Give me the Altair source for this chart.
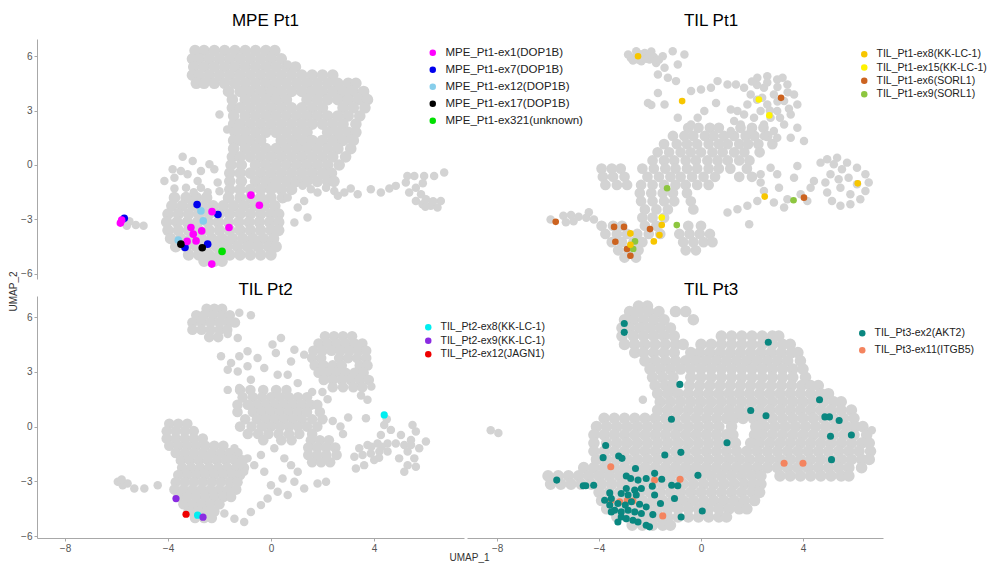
import altair as alt
import pandas as pd

# Gray background cells are given as rows: (UMAP_2, [UMAP_1 values ...]) plus loose points.

# ======================= MPE Pt1 =======================
MPE_ROWS = [
    (6.3, [-2.95, -2.6, -2.2, -1.8, -1.4, -1.0, -0.6, -0.2, 0.15]),
    (5.85, [-3.05, -2.8, -2.4, -2.0, -1.6, -1.2, -0.8, -0.4, 0.0, 0.4]),
    (5.4, [-3.0, -2.6, -2.2, -1.8, -1.4, -1.0, -0.6, -0.2, 0.2, 0.6, 0.95]),
    (4.95, [-3.05, -2.8, -2.4, -2.0, -1.6, -1.2, -0.8, -0.4, 0.0, 0.4, 0.8, 1.2, 1.6, 2.0, 2.4]),
    (4.5, [-2.9, -2.6, -2.2, -1.8, -1.4, -1.0, -0.6, -0.2, 0.2, 0.6, 1.0, 1.4, 1.8, 2.2, 2.6, 3.0, 3.3]),
    (4.05, [-1.65, -1.2, -0.8, -0.4, 0.0, 0.4, 0.8, 1.2, 1.6, 2.0, 2.4, 2.8, 3.2, 3.6]),
    (3.6, [-1.5, -1.0, -0.6, -0.2, 0.2, 0.6, 1.4, 1.8, 2.2, 2.6, 3.0, 3.4, 3.75]),
    (3.15, [-1.5, -1.2, -0.8, -0.4, 0.0, 0.4, 0.8, 1.2, 1.6, 2.0, 2.8, 3.2, 3.65]),
    (2.7, [-1.45, -1.0, -0.6, -0.2, 0.2, 0.6, 1.0, 1.4, 1.8, 2.2, 2.6, 3.0, 3.45]),
    (2.25, [-1.45, -1.2, -0.8, -0.4, 0.0, 0.4, 0.8, 1.2, 1.6, 2.0, 2.4, 2.8, 3.3]),
    (1.8, [-1.4, -1.0, -0.6, -0.2, 0.2, 0.6, 1.0, 1.4, 2.2, 2.6, 3.0, 3.3]),
    (1.35, [-1.45, -1.2, -0.8, -0.4, 0.4, 0.8, 1.2, 1.6, 2.0, 2.4, 2.8, 3.2]),
    (0.9, [-1.45, -1.0, -0.6, -0.2, 0.2, 0.6, 1.0, 1.4, 1.8, 2.2, 2.6, 3.1]),
    (0.45, [-1.5, -1.2, -0.8, -0.4, 0.0, 0.4, 0.8, 1.2, 1.6, 2.0, 2.4, 2.9]),
    (0.0, [-1.55, -1.15, -0.6, -0.2, 0.2, 0.6, 1.0, 1.4, 1.8, 2.2, 2.65]),
    (-0.45, [-1.6, -1.2, -0.8, -0.4, 0.0, 0.4, 0.8, 1.2, 1.6, 2.0, 2.35]),
    (-0.9, [-1.6, -1.15, -0.6, -0.2, 0.2, 0.6, 1.0, 1.4, 1.8, 2.2, 2.45]),
    (-1.35, [-1.6, -1.2, -0.8, -0.4, 0.0, 0.4, 0.8]),
    (-1.8, [-3.75, -3.3, -2.9, -2.5, -1.65, -1.2, -0.8, -0.4, 0.0, 0.45]),
    (-2.25, [-3.85, -3.45, -3.05, -2.65, -2.25, -1.85, -1.45, -1.05, -0.65, -0.25, 0.15]),
    (-2.7, [-4.0, -3.6, -3.2, -2.8, -2.4, -2.0, -1.6, -1.2, -0.8, -0.4, 0.0, 0.3]),
    (-3.15, [-4.05, -3.65, -3.25, -2.85, -2.45, -2.05, -1.65, -1.25, -0.85, -0.45, -0.05, 0.3]),
    (-3.6, [-4.0, -3.6, -3.2, -2.8, -2.4, -2.0, -1.6, -1.2, -0.8, -0.4, 0.0, 0.3]),
    (-4.05, [-3.9, -3.5, -3.1, -2.7, -2.3, -1.9, -1.5, -1.1, -0.7, -0.3, 0.1]),
    (-4.5, [-3.7, -3.3, -2.9, -2.5, -2.1, -1.7, -1.3, -0.9, -0.5, -0.1, 0.2]),
    (-4.95, [-3.2, -2.8, -2.4, -2.0, -1.6, -1.2, -0.8, -0.4, 0.0]),
    (-5.3, [-2.6, -2.2, -1.9]),
]
MPE_LOOSE = [
    (-2.0, 2.78), (-1.7, 1.96), (0.65, 5.53),
    (-3.43, 0.46), (-3.82, -0.24), (-4.14, -0.88), (-3.75, -0.70), (-3.24, -0.51), (-2.72, -0.33),
    (-2.20, -0.24), (-3.30, -1.25), (-2.72, -1.25), (-2.07, -0.97), (-3.75, -1.3), (-2.46, -1.5),
    (-3.04, 0.22), (-2.39, 0.04), (-2.85, -0.88), (-3.50, -0.33), (-2.0, -1.45), (-3.0, -1.5),
    (0.91, -0.97), (1.23, -1.15), (1.55, -1.34), (1.81, -1.52), (2.14, -1.25), (2.46, -1.43),
    (2.85, -1.52), (3.37, -1.61), (3.88, -1.34), (4.27, -1.52), (1.29, -1.98), (1.42, -2.89),
    (0.91, -3.17), (0.65, -1.79), (1.04, -2.34), (3.1, -1.3), (2.6, -1.7), (4.6, -1.3),
    (4.85, -1.15), (5.24, -0.97), (5.57, -0.60), (5.95, -0.60), (6.34, -0.60), (6.73, -0.42),
    (5.63, -1.25), (5.83, -1.61), (5.63, -1.98), (5.89, -2.16), (6.21, -2.25), (6.47, -2.34),
    (6.60, -1.98), (6.02, -1.89), (5.37, -1.52), (6.3, -2.0), (6.0, -2.3), (5.9, -1.0), (5.3, -0.6),
    (-5.5, -3.1), (-5.25, -3.3), (-4.95, -3.35), (-5.6, -3.35),
]
MPE_LABELS = ["MPE_Pt1-ex1(DOP1B)", "MPE_Pt1-ex7(DOP1B)", "MPE_Pt1-ex12(DOP1B)",
              "MPE_Pt1-ex17(DOP1B)", "MPE_Pt1-ex321(unknown)"]
MPE_COLORS = ["#FF00FF", "#0000EE", "#87CEEB", "#000000", "#00E000"]
MPE_EX12 = [(-2.72, -2.53), (-2.63, -3.08), (-3.60, -4.14), (-5.75, -3.0)]
MPE_EX7 = [(-2.87, -2.18), (-2.06, -2.73), (-2.46, -4.36), (-3.34, -4.54), (-5.70, -2.93)]
MPE_EX1 = [(-0.78, -1.66), (-0.45, -2.22), (-2.29, -2.57), (-1.63, -3.44), (-3.11, -3.44),
           (-3.02, -3.81), (-2.69, -3.63), (-2.91, -4.18), (-3.26, -4.21), (-2.30, -5.46),
           (-5.80, -3.04), (-5.85, -3.2)]
MPE_EX17 = [(-3.50, -4.36), (-2.67, -4.56)]
MPE_EX321 = [(-1.90, -4.76)]

# ======================= TIL Pt1 =======================
TIL1_ROWS = [
    (2.05, [-0.5, -0.1, 0.35, 0.7, 1.55, 2.0, 2.45]),
    (1.6, [-1.1, -0.65, -0.3, 0.15, 0.5, 0.9, 1.3, 1.75, 2.1, 2.6]),
    (1.15, [-1.45, -0.95, -0.55, -0.15, 0.3, 0.7, 1.05, 1.5, 1.85, 2.25, 2.8]),
    (0.7, [-1.7, -1.25, -0.8, -0.4, 0.0, 0.45, 0.85, 1.3, 1.7, 2.3]),
    (0.25, [-1.9, -1.45, -1.05, -0.6, -0.2, 0.25, 0.65, 1.05, 1.5, 1.9]),
    (-0.2, [-3.9, -3.5, -3.15, -2.3, -1.85, -1.4, -1.0, -0.55, -0.15, 0.3, 0.7, 1.15, 1.8]),
    (-0.65, [-3.85, -3.45, -3.0, -2.1, -1.65, -1.2, -0.8, -0.35, 0.1, 0.55, 1.5, 2.0]),
    (-1.1, [-3.75, -3.3, -2.9, -2.35, -1.9, -1.45, -1.0, -0.6, -0.15, 0.3]),
    (-1.55, [-2.4, -1.95, -1.5, -1.1, -0.55]),
    (-2.0, [-2.35, -1.9, -1.45, -1.05, -0.4]),
    (-2.45, [-2.2, -1.75, -1.3, -0.3]),
    (-2.9, [-2.3, -1.9, -1.45]),
    (-3.35, [-3.9, -3.45, -3.1, -2.2, -1.75, -0.5, 0.0]),
    (-3.8, [-3.75, -3.3, -2.9, -2.5, -2.05, -1.6, -0.85, -0.45, -0.05, 0.35]),
    (-4.25, [-3.5, -3.1, -2.65, -2.3, -0.7, -0.3, 0.1, 0.45]),
    (-4.7, [-3.25, -2.85, -2.45, -0.6, -0.2]),
    (-5.1, [-3.0, -2.55]),
]
TIL1_LOOSE = [
    (-2.86, 6.08), (-2.67, 5.75), (-2.54, 6.26), (-2.34, 5.71), (-2.21, 6.17), (-2.02, 5.81),
    (-1.95, 6.25), (-1.76, 5.62), (-1.50, 5.99), (-2.6, 5.95), (-2.3, 5.95), (-1.11, 6.26),
    (-0.65, 6.08), (-0.91, 5.53), (-1.43, 5.35), (-1.69, 4.98), (-1.30, 4.80), (-0.98, 4.62),
    (-2.75, 5.9), (-2.45, 5.8), (-2.15, 5.85), (-1.85, 5.95), (-2.0, 6.1), (-2.4, 6.1), (-1.65, 5.8),
    (-1.69, 3.97), (-2.08, 3.42), (-1.95, 3.3), (-1.43, 3.33), (-0.39, 4.07), (0.0, 4.16),
    (0.39, 4.25), (0.65, 4.62), (1.04, 4.43), (1.37, 4.43), (1.69, 4.25), (0.13, 2.97),
    (-0.13, 2.60), (-0.39, 2.23), (0.59, 3.42), (1.17, 3.06), (1.30, 2.42), (1.69, 2.78),
    (-0.91, 2.60),
    (2.21, 4.80), (2.60, 4.89), (2.99, 4.71), (3.39, 4.43), (3.65, 3.88), (3.78, 3.33),
    (3.52, 2.78), (3.26, 2.23), (2.86, 1.87), (2.47, 2.23), (2.08, 2.60), (1.82, 3.33),
    (1.95, 3.88), (2.47, 4.25), (2.86, 3.88), (3.26, 3.52), (2.99, 2.97), (2.60, 3.33),
    (2.34, 2.97), (2.73, 2.60), (1.43, 2.97), (1.56, 2.23), (1.17, 1.87), (1.95, 1.87),
    (2.47, 1.59), (2.99, 1.50), (3.52, 1.50), (4.04, 1.32), (3.78, 2.05), (2.2, 4.4),
    (2.6, 4.55), (3.0, 4.3), (3.4, 4.0), (2.2, 3.6), (3.0, 3.5), (3.45, 3.1), (2.7, 3.0),
    (3.1, 2.6), (2.4, 3.7), (3.2, 4.8), (2.0, 4.6),
    (-5.4, -2.8), (-5.1, -2.75), (-4.8, -2.85), (-4.5, -2.9), (-4.2, -3.0), (-5.3, -3.15),
    (-5.0, -3.1), (-4.4, -2.6), (-5.9, -3.0),
    (2.34, -0.97), (2.47, -1.43), (2.21, -1.98), (1.82, -2.25), (1.43, -2.44), (1.04, -2.62),
    (1.89, -3.26), (2.99, -0.51), (3.78, -0.05), (3.06, -1.25), (3.39, -1.89), (3.91, -1.61),
    (4.30, -1.25), (4.43, -0.88), (3.26, -2.34), (2.86, -2.07), (4.17, -1.98), (2.34, -0.51),
    (2.73, -0.15), (3.65, -0.70),
    (4.95, 0.31), (5.34, 0.40), (5.73, 0.13), (6.12, -0.15), (6.45, -0.51), (6.58, -0.97),
    (6.45, -1.43), (6.25, -1.89), (5.86, -2.16), (5.47, -2.25), (5.14, -1.98), (4.95, -1.52),
    (4.88, -0.97), (5.08, -0.51), (5.53, -0.24), (5.79, -0.70), (5.47, -1.25), (5.86, -1.61),
    (6.12, -1.06), (4.69, 0.13), (5.21, 0.04), (5.40, -0.79),
]
TIL1_LABELS = ["TIL_Pt1-ex8(KK-LC-1)", "TIL_Pt1-ex15(KK-LC-1)", "TIL_Pt1-ex6(SORL1)",
               "TIL_Pt1-ex9(SORL1)"]
TIL1_COLORS = ["#F7C600", "#FFF200", "#CC6320", "#8DC63F"]
TIL1_EX6 = [(3.14, 3.70), (4.04, -1.80), (-5.70, -3.13), (-3.41, -3.41), (-3.02, -3.41),
            (-2.00, -3.53), (-3.36, -4.23), (-2.90, -4.63), (-2.77, -5.0)]
TIL1_EX9 = [(-1.33, -1.28), (-0.95, -3.31), (3.63, -1.94), (-2.59, -4.21), (-2.66, -4.63)]
TIL1_EX8 = [(-2.47, 5.99), (-0.74, 3.52), (2.50, -1.74), (6.15, -1.01), (-1.54, -3.31),
            (-2.77, -3.77), (-1.63, -3.86), (-1.85, -4.21), (-2.77, -4.40)]
TIL1_EX15 = [(2.27, 3.61), (2.68, 2.73), (-1.54, -2.89)]

# ======================= TIL Pt2 =======================
TIL2_ROWS = [
    (6.45, [-2.5, -2.2, -1.9]),
    (6.1, [-2.9, -2.6, -2.25, -1.9, -1.6]),
    (5.7, [-3.05, -2.7, -2.35, -2.0, -1.65, -1.4]),
    (5.3, [-3.05, -2.7, -2.35, -2.0, -1.7]),
    (4.9, [-2.4, -2.05]),
    (4.95, [2.1, 2.45, 2.8, 3.15]),
    (4.55, [1.85, 2.2, 2.55, 2.9, 3.25, 3.55]),
    (4.15, [1.65, 2.0, 2.35, 2.7, 3.05, 3.4, 3.7]),
    (3.75, [1.6, 1.95, 2.65, 3.0, 3.35, 3.7]),
    (3.35, [1.7, 2.05, 2.4, 2.75, 3.45, 3.75]),
    (2.95, [1.85, 2.2, 2.55, 2.9, 3.25, 3.6]),
    (2.55, [2.05, 2.4, 2.75, 3.1, 3.45, 3.8]),
    (2.15, [2.4, 2.8, 3.2, 3.55]),
    (2.0, [-1.2, -0.8, -0.3, 0.2, 0.6]),
    (1.6, [-1.1, -0.7, -0.35, 0.0, 0.35, 0.7, 1.05, 1.4]),
    (1.2, [-1.3, -0.9, -0.55, -0.2, 0.15, 0.5, 0.85, 1.2, 1.55, 1.8]),
    (0.8, [-1.3, -0.7, -0.35, 0.0, 0.35, 0.7, 1.05, 1.4, 1.9]),
    (0.4, [-1.0, -0.55, -0.2, 0.15, 0.5, 0.85, 1.2, 1.6, 2.0]),
    (0.0, [-1.2, -0.75, -0.35, 0.0, 0.35, 0.7, 1.05, 1.4, 1.8]),
    (-0.4, [-0.9, -0.5, -0.1, 0.3, 0.7, 1.1, 1.6]),
    (-0.75, [-0.3, 0.4, 0.8, 1.55, 1.9, 2.25]),
    (0.15, [-3.95, -3.6, -3.25]),
    (-0.25, [-4.05, -3.7, -3.35, -3.0]),
    (-0.65, [-4.05, -3.7, -3.35, -3.0, -2.65]),
    (-1.05, [-3.95, -3.6, -3.25, -2.9, -2.55, -2.2, -1.85]),
    (-1.45, [-3.7, -3.35, -3.0, -2.65, -2.3, -1.95, -1.6, -1.3]),
    (-1.85, [-3.5, -3.15, -2.8, -2.45, -2.1, -1.75, -1.4, -1.1]),
    (-2.25, [-3.45, -3.1, -2.75, -2.4, -2.05, -1.7, -1.35, -1.05]),
    (-2.65, [-3.6, -3.25, -2.9, -2.55, -2.2, -1.85, -1.5, -1.2]),
    (-3.05, [-3.7, -3.35, -3.0, -2.65, -2.3, -1.95, -1.6, -1.3]),
    (-3.45, [-3.75, -3.4, -3.05, -2.7, -2.35, -2.0, -1.65, -1.35]),
    (-3.85, [-3.6, -3.25, -2.9, -2.55, -2.2, -1.85, -1.55]),
    (-4.25, [-3.4, -3.05, -2.7, -2.35, -2.0]),
    (-4.65, [-3.2, -2.85, -2.5, -2.2]),
    (-5.0, [-2.95, -2.6, -2.3]),
    (-1.15, [1.45, 1.8, 2.15, 2.5]),
    (-1.55, [1.45, 1.8, 2.15, 2.55]),
    (-1.95, [1.6, 1.95, 2.3]),
]
TIL2_LOOSE = [
    (-1.23, 6.23), (-0.78, 6.10), (-1.68, 5.07), (-1.29, 4.85), (-0.91, 4.12), (-1.23, 3.85),
    (-0.52, 3.75), (-1.94, 3.85), (-1.55, 3.48), (-1.68, 3.11), (-1.29, 3.02), (-0.91, 3.30),
    (-0.26, 3.21), (0.06, 4.49), (0.39, 4.85), (0.19, 4.03), (0.91, 4.21), (1.29, 3.94),
    (0.78, 3.57), (0.26, 2.84), (0.65, 2.84), (1.04, 2.38), (-1.68, 2.01), (-1.23, 2.11),
    (-0.78, 2.56), (1.6, 1.9), (2.2, 1.5), (2.0, 1.9), (2.4, 0.3), (2.7, 0.0), (2.8, -0.4),
    (3.0, 0.5), (3.5, 1.7), (3.75, 1.47), (3.69, 0.46), (3.9, 2.2),
    (-1.81, -4.76), (-1.42, -5.04), (-1.04, -5.22), (-0.78, -4.67), (-0.39, -4.30), (-0.13, -3.94),
    (0.26, -3.57), (0.65, -3.75), (0.0, -3.21), (0.45, -2.84), (0.91, -3.02), (1.04, -2.47),
    (0.78, -2.11), (1.29, -3.39), (1.81, -3.11), (2.14, -3.02), (-0.26, -2.47), (-0.65, -2.11),
    (-1.04, -2.47), (-0.91, -1.74), (-0.39, -1.56), (0.13, -1.19), (0.52, -1.74), (-1.42, -1.19),
    (4.40, 0.09), (4.66, -0.18), (4.27, -0.46), (5.05, -0.46), (5.50, 0.09), (5.63, -0.27),
    (6.02, -0.82), (5.44, -0.73), (5.18, -1.01), (4.85, -0.92), (4.53, -0.92), (4.14, -0.92),
    (3.75, -1.01), (3.43, -1.19), (3.24, -1.65), (3.56, -1.56), (3.88, -1.47), (4.21, -1.37),
    (4.53, -1.37), (4.01, -1.83), (3.62, -2.11), (3.30, -2.29), (5.31, -1.37), (5.57, -1.74),
    (5.31, -2.11), (5.63, -2.20), (5.18, -2.47), (5.44, -1.01), (5.76, -1.19), (4.98, -1.74),
    (4.5, 0.4), (4.2, -1.7), (3.9, -1.1), (4.3, -1.1),
    (-5.95, -3.02), (-5.76, -3.21), (-5.57, -3.11), (-5.31, -3.39), (-4.92, -3.39), (-4.40, -3.21),
    (-5.8, -2.9),
]
TIL2_LABELS = ["TIL_Pt2-ex8(KK-LC-1)", "TIL_Pt2-ex9(KK-LC-1)", "TIL_Pt2-ex12(JAGN1)"]
TIL2_COLORS = ["#00EEF0", "#8A2BE2", "#EE0000"]
TIL2_EX8 = [(4.40, 0.64), (-2.85, -4.85)]
TIL2_EX9 = [(-3.69, -3.94), (-2.64, -4.96)]
TIL2_EX12 = [(-3.30, -4.80)]

# ======================= TIL Pt3 =======================
TIL3_ROWS = [
    (6.6, [-2.45, -2.1]),
    (6.3, [-2.8, -2.45, -2.05, -1.65, -1.0, -0.6]),
    (5.85, [-3.0, -2.65, -2.25, -1.85, -1.45, -0.3]),
    (5.4, [-3.1, -2.8, -2.4, -2.0, -1.6, -1.2]),
    (4.95, [-3.1, -2.65, -2.25, -1.85, -1.45, -1.05, 0.8, 1.2, 1.6, 2.0, 2.4, 2.8, 3.05]),
    (4.5, [-3.0, -2.6, -2.2, -1.8, -1.4, -1.0, -0.7, 0.0, 0.4, 0.8, 1.2, 1.6, 2.0, 2.4, 2.8,
           3.2, 3.5]),
    (4.05, [-2.6, -2.25, -1.85, -1.45, -1.05, -0.4, -0.05, 0.35, 0.75, 1.15, 1.55, 1.95, 2.35,
            2.75, 3.15, 3.55, 3.8]),
    (3.6, [-2.2, -1.8, -1.4, -1.0, -0.6, -0.2, 0.2, 0.6, 1.0, 1.4, 1.8, 2.2, 2.6, 3.0, 3.4, 3.9]),
    (3.15, [-2.0, -1.6, -1.2, -0.8, -0.4, 0.0, 0.4, 0.8, 1.2, 1.6, 2.0, 2.4, 2.8, 3.2, 3.6, 4.0]),
    (2.7, [-1.9, -1.5, -1.1, -0.4, 0.0, 0.4, 0.8, 1.2, 1.6, 2.0, 2.4, 2.8, 3.2, 3.6, 4.1]),
    (2.25, [-1.8, -1.4, -1.1, -0.45, -0.05, 0.35, 0.75, 1.15, 1.55, 1.95, 2.35, 2.75, 3.15, 3.55,
            3.95, 4.3, 4.6]),
    (1.8, [-1.7, -1.3, -0.9, -0.5, -0.1, 0.3, 0.7, 1.1, 1.5, 1.9, 2.3, 2.7, 3.1, 3.5, 3.9, 4.3,
           4.7, 5.0]),
    (1.35, [-1.6, -1.2, -0.8, -0.4, 0.0, 0.4, 0.8, 1.2, 1.6, 2.0, 2.4, 2.8, 3.2, 3.6, 4.0, 4.4,
            4.8, 5.2, 5.5]),
    (0.9, [-1.7, -1.3, -0.9, -0.5, -0.1, 0.3, 0.7, 1.1, 1.5, 1.9, 2.3, 2.7, 3.1, 3.5, 3.9, 4.3,
           4.7, 5.1, 5.5, 5.9]),
    (0.45, [-3.8, -3.4, -3.0, -2.6, -2.2, -1.8, -1.4, -1.0, -0.6, -0.2, 0.2, 0.6, 1.0, 1.3, 1.65,
            2.05, 2.4, 2.8, 3.2, 3.6, 4.0, 4.4, 4.8, 5.2, 5.6, 6.0]),
    (0.0, [-4.1, -3.7, -3.3, -2.9, -2.5, -2.1, -1.7, -1.3, -0.9, -0.5, -0.1, 0.3, 0.7, 1.2, 2.15,
           2.5, 2.9, 3.3, 3.7, 4.1, 4.5, 4.9, 5.3, 5.7, 6.05, 6.35]),
    (-0.45, [-4.2, -3.8, -3.4, -3.0, -2.6, -2.2, -1.8, -1.4, -1.0, -0.6, -0.2, 0.2, 0.6, 1.0, 1.25,
             2.1, 2.4, 2.8, 3.2, 3.6, 4.0, 4.4, 4.8, 5.2, 5.6, 6.0, 6.5]),
    (-0.9, [-4.2, -3.7, -3.3, -2.9, -2.5, -2.1, -1.7, -1.3, -0.9, -0.5, -0.1, 0.3, 0.7, 1.1, 1.35,
            1.95, 2.3, 2.7, 3.1, 3.5, 3.9, 4.3, 4.7, 5.1, 5.5, 5.9, 6.3, 6.6]),
    (-1.35, [-4.2, -3.8, -3.4, -3.0, -2.6, -2.2, -1.8, -1.4, -1.0, -0.6, -0.2, 0.2, 0.6, 1.0, 1.4,
             1.8, 2.2, 2.6, 3.0, 3.4, 3.8, 4.2, 4.6, 5.0, 5.4, 5.8, 6.2, 6.65]),
    (-1.8, [-4.1, -3.7, -3.3, -2.9, -2.5, -2.1, -1.7, -1.3, -0.9, -0.5, -0.1, 0.3, 0.7, 1.1, 1.5,
            1.9, 2.3, 2.7, 3.1, 3.5, 3.9, 4.3, 4.7, 5.1, 5.5, 5.9, 6.3, 6.6]),
    (-2.25, [-4.6, -4.2, -3.8, -3.4, -3.0, -2.6, -2.2, -1.8, -1.4, -1.0, -0.6, -0.2, 0.2, 0.6, 1.0,
             1.4, 1.8, 2.2, 2.6, 3.0, 3.4, 3.8, 4.2, 4.6, 5.0, 5.4, 5.8, 6.3]),
    (-2.7, [-6.0, -5.6, -5.2, -4.8, -4.4, -4.0, -3.6, -3.2, -2.8, -2.4, -2.0, -1.6, -1.2, -0.8,
            -0.4, 0.0, 0.4, 0.8, 1.2, 1.6, 2.0, 2.35, 3.1, 3.5, 3.9, 4.3, 4.7, 5.1, 5.5, 5.8]),
    (-3.15, [-5.9, -5.5, -5.1, -4.7, -4.3, -3.9, -3.5, -3.1, -2.7, -2.3, -1.9, -1.5, -1.1, -0.7,
             -0.3, 0.1, 0.5, 0.9, 1.3, 1.7, 2.05, 2.35]),
    (-3.6, [-4.0, -3.6, -3.2, -2.8, -2.4, -2.0, -1.6, -1.2, -0.8, -0.4, 0.0, 0.4, 0.8, 1.2, 1.6,
            2.0, 2.3]),
    (-4.05, [-3.9, -3.5, -3.1, -2.7, -2.3, -1.9, -1.5, -1.1, -0.7, -0.3, 0.1, 0.5, 0.9, 1.3, 1.7,
             2.1]),
    (-4.5, [-3.7, -3.3, -2.9, -2.5, -2.1, -1.7, -1.3, -0.9, -0.5, -0.1, 0.3, 0.7, 1.1, 1.5, 1.8]),
    (-4.95, [-3.3, -2.9, -2.5, -2.1, -1.7, -1.3, -0.9, -0.5, -0.1, 0.3, 0.7, 1.0]),
    (-5.4, [-2.7, -2.3, -1.9, -1.5, -1.2]),
]
TIL3_LOOSE = [(-8.25, -0.2), (-7.95, -0.35), (-2.28, 1.47), (6.7, -0.2)]
TIL3_LABELS = ["TIL_Pt3-ex2(AKT2)", "TIL_Pt3-ex11(ITGB5)"]
TIL3_COLORS = ["#0A8780", "#F4845F"]
TIL3_EX11 = [(-3.54, -2.20), (-1.82, -2.93), (-0.82, -2.89), (3.26, -2.01), (4.00, -2.01),
             (-1.50, -4.89), (-3.52, -4.03), (-3.19, -4.12), (-2.89, -4.03), (-2.67, -4.08)]
TIL3_EX2 = [
    (-3.01, 5.64), (-3.01, 5.16), (2.64, 4.62), (-0.83, 2.31), (4.65, 1.47), (1.95, 0.88),
    (2.55, 0.59), (-1.16, 0.40), (4.86, 0.53), (5.04, 0.53), (5.42, 0.33), (5.08, -0.53),
    (5.90, -0.46), (1.02, -0.88), (-3.74, -1.04), (-1.42, -1.56), (-0.79, -1.41), (-3.84, -1.70),
    (-3.23, -1.61), (-3.10, -1.74), (5.12, -1.81), (-2.57, -2.29), (-0.12, -2.67), (-5.66, -2.93),
    (-4.62, -3.24), (-4.52, -3.24), (-4.21, -3.21), (-1.82, -2.56), (-2.93, -2.71), (-2.76, -2.84),
    (-2.47, -2.93), (-2.15, -2.84), (-1.91, -3.26), (-1.54, -2.88), (-1.15, -3.21), (-0.91, -3.24),
    (-1.04, -3.94), (-2.93, -3.39), (-2.60, -3.48), (-2.34, -3.39), (-3.13, -3.66), (-2.86, -3.75),
    (-2.54, -3.75), (-1.82, -3.75), (-1.59, -4.21), (-3.58, -3.63), (-3.52, -3.94), (-3.78, -4.03),
    (-3.26, -4.21), (-2.97, -4.30), (-2.73, -4.12), (-2.41, -4.25), (-2.15, -4.40), (-1.89, -4.82),
    (-3.58, -4.30), (-3.39, -4.58), (-3.13, -4.67), (-2.86, -4.58), (-2.60, -4.67), (-2.34, -4.76),
    (-3.13, -4.95), (-2.93, -5.04), (-2.67, -5.13), (-2.47, -5.22), (-2.15, -5.40), (-2.02, -5.49),
    (-0.78, -4.95), (0.05, -4.62), (-3.52, -4.67), (-3.26, -5.22),
]

FONT = "Liberation Sans"
GRAY = "#D3D3D3"


def row_points(rows):
    return [(x, y) for (y, xs) in rows for x in xs]


def panel(title, rows, loose, row_size, labels, colors, groups, xdom, ydom, w, h, xaxis, yaxis,
          title_dx, title_offset, lx, ly, row_pad, legend_font, cell_size, field):
    rows_df = pd.DataFrame(row_points(rows), columns=["u1", "u2"])
    loose_df = pd.DataFrame(loose, columns=["u1", "u2"])
    recs = []
    for lab, pts in groups:
        for (x, y) in pts:
            recs.append({"u1": x, "u2": y, field: lab})
    cell_df = pd.DataFrame(recs)
    xs = alt.Scale(domain=xdom, nice=False, zero=False)
    ys = alt.Scale(domain=ydom, nice=False, zero=False)
    X = alt.X("u1:Q", scale=xs, axis=xaxis)
    Y = alt.Y("u2:Q", scale=ys, axis=yaxis)
    rows_l = alt.Chart(rows_df).mark_circle(size=row_size, color=GRAY, opacity=1).encode(x=X, y=Y)
    loose_l = alt.Chart(loose_df).mark_circle(size=72, color=GRAY, opacity=1).encode(x=X, y=Y)
    cell_l = alt.Chart(cell_df).mark_circle(size=cell_size, opacity=1).encode(
        x=X, y=Y,
        color=alt.Color(field + ":N",
                        scale=alt.Scale(domain=labels, range=colors),
                        sort=labels,
                        legend=alt.Legend(title=None, orient="none", legendX=lx, legendY=ly,
                                          labelFont=FONT, labelFontSize=legend_font,
                                          labelColor="#222222", symbolType="circle",
                                          symbolSize=42, symbolStrokeWidth=0,
                                          rowPadding=row_pad, labelOffset=7, padding=0)),
    )
    return alt.layer(rows_l, loose_l, cell_l).properties(
        width=w, height=h,
        title=alt.TitleParams(text=title, font=FONT, fontSize=17, fontWeight="normal",
                              color="#000000", anchor="middle", frame="group",
                              dx=title_dx, offset=title_offset),
    )


XL = [-9.09, 7.5]
XR = [-9.18, 7.14]
YT = [-6.28, 6.94]
YB = [-6.1, 7.15]
YTICKS = [-6, -3, 0, 3, 6]
XTICKS = [-8, -4, 0, 4]

tl = panel("MPE Pt1", MPE_ROWS, MPE_LOOSE, 135, MPE_LABELS, MPE_COLORS,
           [(MPE_LABELS[2], MPE_EX12), (MPE_LABELS[1], MPE_EX7), (MPE_LABELS[0], MPE_EX1),
            (MPE_LABELS[3], MPE_EX17), (MPE_LABELS[4], MPE_EX321)],
           XL, YT, 427, 240, None,
           alt.Axis(values=YTICKS, title="UMAP_2", titleX=-24, titleY=252, titleAngle=270,
                    titleAlign="center", titleBaseline="middle", titleFont=FONT,
                    titleFontSize=10, titleFontWeight="normal", titleColor="#333333"),
           15, 9, 390, 8, 4, 11.5, 58, "c1")
tr = panel("TIL Pt1", TIL1_ROWS, TIL1_LOOSE, 115, TIL1_LABELS, TIL1_COLORS,
           [(TIL1_LABELS[2], TIL1_EX6), (TIL1_LABELS[3], TIL1_EX9), (TIL1_LABELS[0], TIL1_EX8),
            (TIL1_LABELS[1], TIL1_EX15)],
           XR, YT, 416, 240, None, None, 36, 9, 392, 10, 2.3, 10.5, 44, "c2")
bl = panel("TIL Pt2", TIL2_ROWS, TIL2_LOOSE, 112, TIL2_LABELS, TIL2_COLORS,
           [(TIL2_LABELS[0], TIL2_EX8), (TIL2_LABELS[1], TIL2_EX9), (TIL2_LABELS[2], TIL2_EX12)],
           XL, YB, 427, 242,
           alt.Axis(values=XTICKS, title="UMAP_1", titleX=432, titleY=19, titleAlign="center",
                    titleBaseline="middle", titleFont=FONT, titleFontSize=10,
                    titleFontWeight="normal", titleColor="#333333"),
           alt.Axis(values=YTICKS, title=None),
           15, -3, 386, 26, 2.5, 10.5, 52, "c3")
br = panel("TIL Pt3", TIL3_ROWS, TIL3_LOOSE, 135, TIL3_LABELS, TIL3_COLORS,
           [(TIL3_LABELS[1], TIL3_EX11), (TIL3_LABELS[0], TIL3_EX2)],
           XR, YB, 416, 242, alt.Axis(values=XTICKS, title=None), None,
           36, -3, 390, 32, 6, 10.5, 50, "c4")

chart = (
    alt.concat(tl, tr, bl, br, columns=2, spacing={"row": 17, "column": 3}, bounds="flush")
    .resolve_scale(color="independent")
    .properties(padding={"left": 0, "top": 4, "right": 2, "bottom": 2})
    .configure(font=FONT)
    .configure_view(strokeWidth=0)
    .configure_axis(grid=False, domainColor="#A8A8A8", tickColor="#A8A8A8", tickSize=3,
                    labelColor="#555555", labelFont=FONT, labelFontSize=10, labelPadding=2,
                    domainWidth=1)
)
chart.save("out.html", embed_options={"renderer": "svg", "actions": False})
